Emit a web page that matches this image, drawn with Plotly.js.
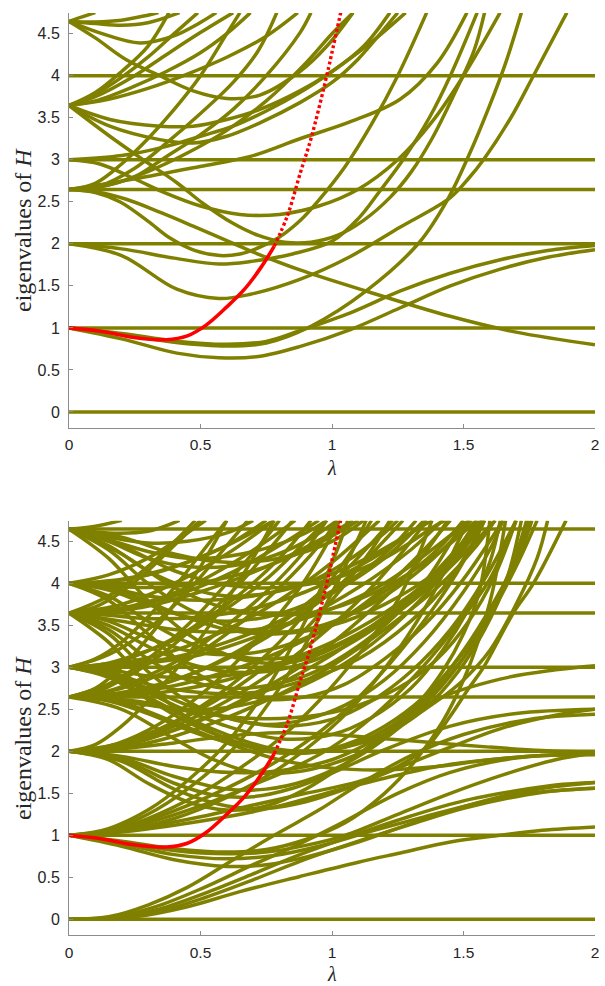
<!DOCTYPE html>
<html>
<head>
<meta charset="utf-8">
<script src="https://cdn.plot.ly/plotly-3.0.1.min.js"></script>
<style>
  html, body { margin: 0; padding: 0; background: #ffffff; }
  #chart { width: 605px; height: 986px; }
</style>
</head>
<body>
<div id="chart"></div>
<script>
// ---------------- data ----------------
const lambdaTicks = [0, 0.5, 1, 1.5, 2];
const lambdaTickText = ['0', '0.5', '1', '1.5', '2'];
const eigTicks = [0, 0.5, 1, 1.5, 2, 2.5, 3, 3.5, 4, 4.5];
const eigTickText = ['0', '0.5', '1', '1.5', '2', '2.5', '3', '3.5', '4', '4.5'];
const xTitle = 'λ';
const yTitle = 'eigenvalues of <i>H</i>';

// tracked eigenvalue (red), identical in both panels
const redPath = [[0,1],[0.12,0.96],[0.24,0.89],[0.37,0.86],[0.45,0.905],[0.52,1.03],[0.6,1.25],[0.67,1.47],[0.73,1.72],[0.78,1.97],[0.83,2.33],[0.88,2.85],[0.92,3.25],[0.98,4.0],[1.005,4.35],[1.033,4.75]];

// ---- top panel ----
const topFlat = [0, 1, 2, 2.646, 3, 4];
const topFrom1 = [
  [[0,1],[0.2,0.935],[0.4,0.845],[0.6,0.805],[0.75,0.84],[0.88,0.97],[1.07,1.18],[1.26,1.44],[1.45,1.65],[1.64,1.81],[1.82,1.92],[2,1.98]],
  [[0,1],[0.2,0.925],[0.4,0.83],[0.6,0.785],[0.75,0.82],[0.92,1.02],[1.13,1.44],[1.33,2.01],[1.44,2.53],[1.52,3.05],[1.6,3.65],[1.66,4.15],[1.72,4.75]],
  [[0,1],[0.2,0.87],[0.41,0.70],[0.57,0.645],[0.72,0.66],[0.88,0.78],[1.07,0.98],[1.26,1.24],[1.45,1.50],[1.64,1.70],[1.82,1.84],[2,1.93]]
];
const topFrom2 = [
  [[0,2],[0.2,1.94],[0.4,1.83],[0.57,1.76],[0.69,1.79],[0.85,1.88],[1.0,2.03],[1.1,2.3],[1.18,2.62],[1.27,3.0],[1.37,3.5],[1.45,4.0],[1.552,4.75]],
  [[0,2],[0.2,1.86],[0.41,1.46],[0.57,1.35],[0.69,1.40],[0.88,1.58],[1.07,1.85],[1.26,2.2],[1.45,2.55],[1.52,2.78],[1.576,3.0],[1.68,3.5],[1.766,4.0],[1.893,4.75]]
];
const topFrom265 = [
  [[0,2.646],[0.1,2.62],[0.218,2.53],[0.35,2.37],[0.472,2.21],[0.65,1.97],[0.726,1.87],[0.878,1.69],[1.132,1.436],[1.449,1.138],[1.7,0.95],[2,0.80]],
  [[0,2.646],[0.1,2.61],[0.193,2.5],[0.3,2.27],[0.384,2.07],[0.48,1.92],[0.574,1.86],[0.65,1.88],[0.726,1.96],[0.8,2.08],[0.88,2.28],[0.95,2.52],[1.05,2.92],[1.15,3.42],[1.25,4.0],[1.36,4.75]],
  [[0,2.646],[0.245,2.77],[0.498,2.92],[0.69,3.04],[0.878,3.25],[1.068,3.45],[1.259,3.72],[1.4,4.15],[1.513,4.75]],
  [[0,2.646],[0.117,2.69],[0.25,2.9],[0.371,3.2],[0.5,3.55],[0.624,3.92],[0.72,4.3],[0.79,4.75]],
  [[0,2.646],[0.1,2.67],[0.25,2.8],[0.371,3.04],[0.5,3.3],[0.624,3.6],[0.75,4.0],[0.878,4.51],[0.92,4.75]],
  [[0,2.646],[0.15,2.7],[0.3,2.86],[0.45,3.08],[0.6,3.35],[0.75,3.7],[0.9,4.15],[1.0,4.5],[1.08,4.75]],
  [[0,2.646],[0.1,2.72],[0.2,2.95],[0.3,3.25],[0.4,3.6],[0.5,4.0],[0.6,4.5],[0.65,4.75]]
];
const topFrom3 = [
  [[0,3],[0.117,2.95],[0.245,2.78],[0.37,2.6],[0.5,2.45],[0.65,2.35],[0.8,2.35],[0.95,2.45],[1.1,2.65],[1.25,3.0],[1.38,3.45],[1.5,4.0],[1.639,4.75]],
  [[0,3],[0.2,3.05],[0.371,3.16],[0.5,3.28],[0.624,3.40],[0.75,3.58],[0.878,3.80],[1.0,4.05],[1.15,4.4],[1.28,4.75]]
];
const topFrom365 = [
  [[0,3.646],[0.155,3.48],[0.345,3.40],[0.472,3.40],[0.6,3.48],[0.726,3.60],[0.878,3.82],[1.0,4.05],[1.12,4.35],[1.22,4.75]],
  [[0,3.646],[0.155,3.40],[0.345,3.24],[0.472,3.20],[0.6,3.28],[0.726,3.44],[0.878,3.68],[1.0,3.92],[1.1,4.2],[1.21,4.6],[1.25,4.75]],
  [[0,3.646],[0.155,3.28],[0.282,3.0],[0.409,2.73],[0.51,2.48],[0.62,2.25],[0.72,2.1],[0.82,2.02],[0.92,2.02],[1.02,2.1],[1.12,2.28],[1.22,2.55],[1.3,2.85],[1.38,3.25],[1.46,3.75],[1.54,4.3],[1.58,4.75]],
  [[0,3.646],[0.1,3.75],[0.245,3.99],[0.37,4.25],[0.498,4.51],[0.624,4.75]],
  [[0,3.646],[0.1,3.7],[0.245,3.87],[0.37,4.05],[0.498,4.27],[0.6,4.5],[0.69,4.75]],
  [[0,3.646],[0.15,3.72],[0.3,3.85],[0.45,4.02],[0.6,4.22],[0.75,4.47],[0.87,4.75]],
  [[0,3.646],[0.1,3.8],[0.2,4.05],[0.3,4.35],[0.38,4.75]],
  [[0,3.646],[0.1,3.78],[0.2,3.98],[0.3,4.22],[0.4,4.5],[0.49,4.75]]
];
const topFrom465 = [
  [[0,4.646],[0.117,4.51],[0.27,4.39],[0.396,4.47],[0.498,4.63],[0.56,4.75]],
  [[0,4.646],[0.1,4.45],[0.218,4.19],[0.345,4.0],[0.472,3.82],[0.6,3.73],[0.726,3.77],[0.878,4.05],[0.98,4.35],[1.08,4.75]],
  [[0,4.646],[0.1,4.64],[0.2,4.66],[0.3,4.72],[0.34,4.75]],
  [[0,4.646],[0.1,4.62],[0.2,4.6],[0.3,4.63],[0.42,4.75]],
  [[0,4.646],[0.05,4.7],[0.1,4.75]]
];

// ---- bottom panel ----
const botFlat = [0, 1, 2, 2.646, 3, 3.646, 4, 4.646];
const botFrom0 = [
  [[0,0],[0.2,0.02],[0.35,0.1],[0.5,0.24],[0.7,0.47],[0.878,0.69],[1.1,0.93],[1.3,1.13],[1.5,1.32],[1.7,1.46],[1.85,1.53],[2,1.56]],
  [[0,0],[0.18,0.02],[0.33,0.11],[0.5,0.29],[0.7,0.54],[0.878,0.77],[1.1,1.02],[1.3,1.23],[1.5,1.41],[1.7,1.53],[1.85,1.6],[2,1.63]],
  [[0,0],[0.25,0.03],[0.45,0.15],[0.65,0.33],[0.878,0.51],[1.1,0.68],[1.26,0.79],[1.45,0.92],[1.64,1.0],[1.8,1.06],[2,1.10]],
  [[0,0],[0.18,0.03],[0.33,0.15],[0.5,0.36],[0.7,0.65],[0.878,0.9],[1.05,1.17],[1.25,1.5],[1.45,1.75],[1.7,1.92],[2,1.97]],
  [[0,0],[0.15,0.03],[0.3,0.17],[0.45,0.38],[0.62,0.7],[0.78,1.0],[0.95,1.3],[1.1,1.6],[1.3,1.95],[1.5,2.2],[1.75,2.38],[2,2.44]]
];
const botFrom1 = [
  [[0,1],[0.2,0.92],[0.4,0.82],[0.6,0.78],[0.75,0.80],[0.9,0.88],[1.05,1.0],[1.25,1.25],[1.45,1.5],[1.65,1.72],[1.85,1.9],[2,1.98]],
  [[0,1],[0.2,0.93],[0.4,0.84],[0.6,0.80],[0.75,0.83],[0.9,0.95],[1.05,1.15],[1.2,1.5],[1.32,1.9],[1.42,2.35],[1.5,2.85],[1.56,3.35],[1.61,3.9],[1.66,4.75]],
  [[0,1],[0.2,0.87],[0.4,0.71],[0.6,0.63],[0.75,0.65],[0.9,0.74],[1.1,0.92],[1.3,1.14],[1.5,1.34],[1.7,1.5],[1.85,1.58],[2,1.63]],
  [[0,1],[0.2,0.9],[0.4,0.77],[0.6,0.72],[0.78,0.76],[0.95,0.87],[1.15,1.05],[1.35,1.22],[1.55,1.38],[1.75,1.5],[2,1.56]],
  [[0,1],[0.15,1.04],[0.3,1.15],[0.5,1.35],[0.7,1.6],[0.85,1.8],[1.0,2.05],[1.15,2.4],[1.3,2.85],[1.45,3.4],[1.6,4.05],[1.7,4.75]],
  [[0,1],[0.15,1.05],[0.3,1.2],[0.5,1.5],[0.65,1.8],[0.8,2.15],[0.95,2.6],[1.1,3.15],[1.25,3.8],[1.38,4.75]],
  [[0,1],[0.15,1.03],[0.3,1.1],[0.5,1.22],[0.7,1.36],[0.9,1.5],[1.1,1.64],[1.25,1.82],[1.36,2.05],[1.45,2.42],[1.52,2.75],[1.576,3.0],[1.69,3.65],[1.766,4.0],[1.89,4.75]],
  [[0,1],[0.15,1.06],[0.3,1.25],[0.45,1.55],[0.6,1.95],[0.72,2.4],[0.85,3.0],[0.97,3.7],[1.08,4.4],[1.13,4.75]],
  [[0,1],[0.2,1.04],[0.4,1.12],[0.6,1.22],[0.8,1.35],[1.0,1.52],[1.2,1.68],[1.4,1.82],[1.6,1.9],[1.8,1.95],[2,1.96]],
  [[0,1],[0.15,1.08],[0.3,1.3],[0.45,1.65],[0.6,2.1],[0.72,2.6],[0.83,3.15],[0.93,3.75],[1.02,4.4],[1.06,4.75]],
  [[0,1],[0.2,1.05],[0.4,1.2],[0.6,1.45],[0.8,1.8],[0.95,2.15],[1.1,2.6],[1.25,3.2],[1.38,3.85],[1.48,4.5],[1.52,4.75]],
  [[0,1],[0.15,1.05],[0.3,1.18],[0.5,1.42],[0.7,1.72],[0.85,2.0],[1.0,2.35],[1.15,2.8],[1.3,3.35],[1.45,4.0],[1.55,4.55],[1.58,4.75]]
];
const botFrom2 = [
  [[0,2],[0.2,1.92],[0.4,1.7],[0.6,1.55],[0.75,1.55],[0.9,1.65],[1.05,1.85],[1.2,2.15],[1.35,2.6],[1.5,3.2],[1.62,3.8],[1.72,4.4],[1.76,4.75]],
  [[0,2],[0.2,1.88],[0.4,1.55],[0.6,1.35],[0.75,1.32],[0.9,1.4],[1.05,1.55],[1.25,1.8],[1.45,2.05],[1.65,2.28],[1.85,2.43],[2,2.5]],
  [[0,2],[0.2,1.94],[0.4,1.82],[0.6,1.75],[0.8,1.77],[1.0,1.9],[1.2,2.2],[1.4,2.6],[1.5,2.85],[1.6,3.2],[1.7,3.75],[1.78,4.3],[1.82,4.75]],
  [[0,2],[0.15,1.9],[0.3,1.62],[0.45,1.4],[0.6,1.3],[0.75,1.35],[0.9,1.55],[1.05,1.85],[1.2,2.2],[1.385,2.6],[1.639,2.86],[1.85,2.97],[2,3.02]],
  [[0,2],[0.2,1.9],[0.4,1.62],[0.55,1.48],[0.7,1.46],[0.85,1.56],[1.0,1.74],[1.2,2.02],[1.45,2.3],[1.7,2.45],[2,2.5]],
  [[0,2],[0.15,2.05],[0.3,2.2],[0.5,2.5],[0.7,2.9],[0.85,3.3],[1.0,3.8],[1.15,4.4],[1.22,4.75]],
  [[0,2],[0.15,2.04],[0.3,2.15],[0.5,2.38],[0.7,2.68],[0.9,3.05],[1.1,3.55],[1.3,4.15],[1.44,4.75]],
  [[0,2],[0.2,2.1],[0.4,2.35],[0.6,2.75],[0.8,3.3],[0.95,3.85],[1.1,4.5],[1.15,4.75]],
  [[0,2],[0.2,2.06],[0.4,2.25],[0.6,2.5],[0.8,2.8],[1.0,3.15],[1.2,3.6],[1.4,4.1],[1.55,4.75]],
  [[0,2],[0.2,2.03],[0.4,2.1],[0.6,2.18],[0.8,2.22],[1.0,2.2],[1.2,2.15],[1.4,2.1],[1.6,2.05],[1.8,2.01],[2,1.99]],
  [[0,2],[0.1,2.08],[0.2,2.3],[0.3,2.6],[0.4,2.95],[0.5,3.35],[0.6,3.8],[0.7,4.3],[0.78,4.75]],
  [[0,2],[0.2,2.08],[0.4,2.3],[0.6,2.6],[0.8,3.0],[1.0,3.5],[1.15,3.95],[1.3,4.5],[1.36,4.75]],
  [[0,2],[0.15,2.06],[0.3,2.25],[0.45,2.55],[0.6,2.95],[0.75,3.45],[0.9,4.05],[1.03,4.75]],
  [[0,2],[0.2,2.04],[0.4,2.18],[0.6,2.4],[0.8,2.68],[1.0,3.02],[1.2,3.45],[1.4,3.95],[1.55,4.45],[1.62,4.75]]
];
const botFrom265 = [
  [[0,2.646],[0.2,2.7],[0.4,2.85],[0.6,3.1],[0.8,3.45],[1.0,3.9],[1.15,4.35],[1.27,4.75]],
  [[0,2.646],[0.2,2.75],[0.4,3.0],[0.6,3.4],[0.8,3.95],[0.95,4.45],[1.02,4.75]],
  [[0,2.646],[0.2,2.68],[0.4,2.78],[0.6,2.95],[0.8,3.18],[1.0,3.5],[1.2,3.9],[1.4,4.4],[1.5,4.75]],
  [[0,2.646],[0.15,2.8],[0.3,3.1],[0.45,3.5],[0.6,4.0],[0.75,4.55],[0.8,4.75]],
  [[0,2.646],[0.2,2.58],[0.4,2.35],[0.6,2.1],[0.8,1.9],[1.0,1.8],[1.2,1.78],[1.4,1.82],[1.6,1.9],[1.8,1.95],[2,1.97]],
  [[0,2.646],[0.2,2.5],[0.4,2.15],[0.55,1.9],[0.7,1.75],[0.85,1.75],[1.0,1.85],[1.15,2.05],[1.3,2.4],[1.45,2.9],[1.58,3.5],[1.7,4.2],[1.78,4.75]],
  [[0,2.646],[0.15,2.6],[0.3,2.45],[0.5,2.2],[0.7,2.05],[0.9,2.0],[1.1,2.1],[1.25,2.35],[1.4,2.75],[1.52,3.2],[1.62,3.75],[1.7,4.35],[1.74,4.75]],
  [[0,2.646],[0.15,2.72],[0.3,2.9],[0.45,3.15],[0.6,3.5],[0.75,3.9],[0.9,4.4],[0.98,4.75]],
  [[0,2.646],[0.2,2.66],[0.4,2.72],[0.6,2.85],[0.8,3.05],[1.0,3.3],[1.2,3.65],[1.4,4.1],[1.55,4.5],[1.62,4.75]],
  [[0,2.646],[0.1,2.75],[0.2,3.0],[0.3,3.35],[0.4,3.75],[0.5,4.2],[0.6,4.75]],
  [[0,2.646],[0.25,2.6],[0.45,2.48],[0.65,2.4],[0.85,2.4],[1.05,2.5],[1.25,2.75],[1.4,3.1],[1.52,3.55],[1.62,4.1],[1.7,4.75]],
  [[0,2.646],[0.15,2.62],[0.3,2.55],[0.45,2.5],[0.6,2.52],[0.75,2.62],[0.9,2.8],[1.05,3.05],[1.2,3.4],[1.35,3.85],[1.5,4.4],[1.58,4.75]],
  [[0,2.646],[0.15,2.66],[0.3,2.75],[0.45,2.9],[0.6,3.12],[0.75,3.4],[0.9,3.75],[1.05,4.15],[1.2,4.65],[1.23,4.75]],
  [[0,2.646],[0.1,2.7],[0.2,2.85],[0.35,3.15],[0.5,3.55],[0.65,4.0],[0.8,4.55],[0.85,4.75]]
];
const botFrom3 = [
  [[0,3],[0.2,3.05],[0.4,3.2],[0.6,3.45],[0.8,3.8],[1.0,4.25],[1.18,4.75]],
  [[0,3],[0.2,3.08],[0.4,3.35],[0.6,3.75],[0.8,4.3],[0.92,4.75]],
  [[0,3],[0.2,3.03],[0.4,3.12],[0.6,3.3],[0.8,3.55],[1.0,3.88],[1.2,4.3],[1.35,4.75]],
  [[0,3],[0.15,3.15],[0.3,3.45],[0.45,3.9],[0.6,4.45],[0.68,4.75]],
  [[0,3],[0.15,2.92],[0.3,2.75],[0.45,2.55],[0.6,2.4],[0.8,2.3],[1.0,2.38],[1.15,2.6],[1.3,2.95],[1.45,3.45],[1.58,4.05],[1.7,4.75]],
  [[0,3],[0.15,2.95],[0.3,2.8],[0.5,2.7],[0.7,2.7],[0.9,2.85],[1.1,3.1],[1.3,3.55],[1.45,4.05],[1.58,4.75]],
  [[0,3],[0.2,2.85],[0.4,2.55],[0.6,2.3],[0.8,2.15],[1.0,2.2],[1.15,2.4],[1.3,2.75],[1.42,3.2],[1.52,3.7],[1.6,4.25],[1.64,4.75]],
  [[0,3],[0.15,3.0],[0.3,3.05],[0.5,3.15],[0.7,3.35],[0.9,3.6],[1.1,3.95],[1.3,4.4],[1.42,4.75]],
  [[0,3],[0.1,3.1],[0.2,3.3],[0.3,3.6],[0.4,3.95],[0.5,4.35],[0.6,4.75]],
  [[0,3],[0.15,2.9],[0.3,2.65],[0.45,2.4],[0.6,2.2],[0.75,2.05],[0.9,2.0],[1.05,2.05],[1.2,2.2],[1.35,2.5],[1.48,2.95],[1.58,3.45],[1.66,4.0],[1.72,4.75]],
  [[0,3],[0.15,3.05],[0.3,3.2],[0.45,3.4],[0.6,3.7],[0.75,4.05],[0.9,4.5],[0.98,4.75]],
  [[0,3],[0.15,2.97],[0.3,2.9],[0.5,2.88],[0.7,2.95],[0.9,3.12],[1.1,3.4],[1.3,3.8],[1.45,4.25],[1.57,4.75]],
  [[0,3],[0.15,2.88],[0.3,2.62],[0.45,2.35],[0.6,2.15],[0.75,2.02],[0.9,1.98],[1.05,2.05],[1.2,2.25],[1.32,2.55],[1.42,2.95],[1.5,3.4],[1.56,3.9],[1.6,4.75]]
];
const botFrom365 = [
  [[0,3.646],[0.2,3.75],[0.4,4.0],[0.6,4.35],[0.78,4.75]],
  [[0,3.646],[0.2,3.7],[0.4,3.85],[0.6,4.1],[0.8,4.45],[0.95,4.75]],
  [[0,3.646],[0.15,3.85],[0.3,4.2],[0.45,4.65],[0.48,4.75]],
  [[0,3.646],[0.25,3.7],[0.5,3.9],[0.75,4.2],[1.0,4.6],[1.08,4.75]],
  [[0,3.646],[0.15,3.55],[0.3,3.35],[0.45,3.2],[0.6,3.15],[0.75,3.2],[0.9,3.35],[1.05,3.6],[1.2,3.95],[1.35,4.4],[1.45,4.75]],
  [[0,3.646],[0.15,3.45],[0.3,3.1],[0.45,2.85],[0.6,2.75],[0.75,2.78],[0.9,2.9],[1.05,3.15],[1.2,3.5],[1.35,4.0],[1.5,4.75]],
  [[0,3.646],[0.2,3.55],[0.4,3.45],[0.6,3.42],[0.8,3.5],[1.0,3.7],[1.2,4.0],[1.4,4.45],[1.52,4.75]],
  [[0,3.646],[0.15,3.62],[0.3,3.58],[0.5,3.6],[0.7,3.7],[0.9,3.9],[1.1,4.2],[1.3,4.6],[1.36,4.75]],
  [[0,3.646],[0.15,3.4],[0.3,2.95],[0.45,2.6],[0.6,2.4],[0.75,2.32],[0.9,2.38],[1.05,2.55],[1.2,2.85],[1.35,3.3],[1.5,3.9],[1.6,4.4],[1.65,4.75]],
  [[0,3.646],[0.1,3.72],[0.2,3.9],[0.3,4.15],[0.4,4.45],[0.5,4.75]],
  [[0,3.646],[0.15,3.5],[0.3,3.25],[0.45,3.05],[0.6,2.95],[0.75,2.95],[0.9,3.05],[1.05,3.25],[1.2,3.55],[1.35,3.95],[1.5,4.5],[1.56,4.75]],
  [[0,3.646],[0.15,3.68],[0.3,3.78],[0.45,3.95],[0.6,4.2],[0.75,4.5],[0.86,4.75]],
  [[0,3.646],[0.15,3.3],[0.3,2.8],[0.45,2.4],[0.6,2.15],[0.75,2.0],[0.9,1.98],[1.05,2.08],[1.2,2.3],[1.35,2.65],[1.48,3.1],[1.6,3.65],[1.7,4.3],[1.75,4.75]]
];
const botFrom4 = [
  [[0,4],[0.15,4.1],[0.3,4.3],[0.45,4.6],[0.52,4.75]],
  [[0,4],[0.2,4.05],[0.4,4.2],[0.6,4.45],[0.78,4.75]],
  [[0,4],[0.15,3.92],[0.3,3.75],[0.45,3.6],[0.6,3.55],[0.75,3.6],[0.9,3.75],[1.05,4.0],[1.2,4.35],[1.32,4.75]],
  [[0,4],[0.2,3.9],[0.4,3.65],[0.6,3.45],[0.8,3.4],[1.0,3.5],[1.2,3.75],[1.4,4.15],[1.55,4.65],[1.57,4.75]],
  [[0,4],[0.15,4.02],[0.3,4.1],[0.45,4.25],[0.6,4.45],[0.75,4.75]],
  [[0,4],[0.15,3.95],[0.3,3.85],[0.5,3.8],[0.7,3.85],[0.9,4.0],[1.1,4.25],[1.3,4.6],[1.38,4.75]],
  [[0,4],[0.15,3.85],[0.3,3.55],[0.45,3.3],[0.6,3.15],[0.75,3.1],[0.9,3.15],[1.05,3.3],[1.2,3.55],[1.35,3.9],[1.5,4.35],[1.62,4.75]],
  [[0,4],[0.15,3.97],[0.3,3.95],[0.45,3.98],[0.6,4.07],[0.75,4.2],[0.9,4.4],[1.05,4.65],[1.1,4.75]],
  [[0,4],[0.15,3.8],[0.3,3.4],[0.45,3.0],[0.6,2.75],[0.75,2.62],[0.9,2.65],[1.05,2.8],[1.2,3.1],[1.35,3.5],[1.5,4.05],[1.62,4.6],[1.65,4.75]]
];
const botFrom465 = [
  [[0,4.646],[0.15,4.5],[0.3,4.3],[0.45,4.2],[0.6,4.2],[0.75,4.3],[0.9,4.5],[1.02,4.75]],
  [[0,4.646],[0.15,4.45],[0.3,4.15],[0.45,3.95],[0.6,3.85],[0.75,3.88],[0.9,4.0],[1.05,4.25],[1.2,4.6],[1.25,4.75]],
  [[0,4.646],[0.15,4.55],[0.3,4.48],[0.45,4.5],[0.6,4.6],[0.7,4.75]],
  [[0,4.646],[0.2,4.35],[0.4,3.95],[0.6,3.7],[0.8,3.62],[1.0,3.7],[1.2,3.95],[1.4,4.35],[1.55,4.75]],
  [[0,4.646],[0.1,4.68],[0.2,4.75]],
  [[0,4.646],[0.2,4.55],[0.4,4.35],[0.6,4.25],[0.8,4.3],[1.0,4.5],[1.12,4.75]],
  [[0,4.646],[0.15,4.4],[0.3,4.0],[0.45,3.7],[0.6,3.5],[0.75,3.42],[0.9,3.45],[1.05,3.6],[1.2,3.85],[1.35,4.2],[1.5,4.65],[1.53,4.75]],
  [[0,4.646],[0.15,4.6],[0.3,4.62],[0.42,4.75]],
  [[0,4.646],[0.15,4.52],[0.3,4.38],[0.45,4.3],[0.6,4.32],[0.75,4.42],[0.9,4.6],[0.98,4.75]],
  [[0,4.646],[0.2,4.45],[0.4,4.15],[0.6,3.98],[0.8,3.95],[1.0,4.05],[1.2,4.3],[1.4,4.7],[1.43,4.75]],
  [[0,4.646],[0.15,4.3],[0.3,3.8],[0.45,3.4],[0.6,3.15],[0.75,3.05],[0.9,3.1],[1.05,3.3],[1.2,3.6],[1.35,4.0],[1.5,4.5],[1.57,4.75]]
];

// ---------------- drawing ----------------
const OLIVE = 'rgb(128,128,0)';
const RED = 'rgb(255,0,0)';
const LW = 3.5;
const traces = [];

function curve(pts, xa, ya, color, width, dash) {
  traces.push({
    type: 'scatter', mode: 'lines', xaxis: xa, yaxis: ya,
    x: pts.map(p => p[0]), y: pts.map(p => p[1]),
    line: {color: color, width: width, shape: 'spline', smoothing: 1, dash: dash || 'solid'},
    hoverinfo: 'skip', showlegend: false
  });
}
function flat(levels, xa, ya) {
  levels.forEach(v => curve([[lambdaTicks[0], v], [lambdaTicks[lambdaTicks.length - 1], v]], xa, ya, OLIVE, LW));
}
function panel(xa, ya, flats, families) {
  flat(flats, xa, ya);
  families.forEach(fam => fam.forEach(c => curve(c, xa, ya, OLIVE, LW)));
  curve(redPath.filter(p => p[0] <= 0.78), xa, ya, RED, 3.6);
  curve(redPath.filter(p => p[0] >= 0.78), xa, ya, RED, 3.4, '3px,2.6px');
}
panel('x', 'y', topFlat, [topFrom1, topFrom2, topFrom265, topFrom3, topFrom365, topFrom465]);
panel('x2', 'y2', botFlat, [botFrom0, botFrom1, botFrom2, botFrom265, botFrom3, botFrom365, botFrom4, botFrom465]);

const tickFontY = {family: 'Liberation Sans, Arial, sans-serif', size: 16, color: '#262626'};
const tickFontX = {family: 'Liberation Sans, Arial, sans-serif', size: 15.5, color: '#262626'};
const titleFont = {family: 'Liberation Serif, DejaVu Serif, serif', size: 24, color: '#262626'};
const lamFont = {family: 'Liberation Serif, DejaVu Serif, serif', size: 20, color: '#262626'};
function xAxis(anchor) {
  return {
    anchor: anchor, domain: [0, 1], range: [0, 2],
    tickmode: 'array', tickvals: lambdaTicks, ticktext: lambdaTickText,
    ticks: 'inside', ticklen: 4, tickwidth: 1, tickcolor: '#8c8c8c',
    showline: true, linecolor: '#8c8c8c', linewidth: 1, mirror: false,
    showgrid: false, zeroline: false, tickfont: tickFontX, ticklabelstandoff: 3
  };
}
function yAxis(anchor, domain) {
  return {
    anchor: anchor, domain: domain, range: [-0.187, 4.746],
    tickmode: 'array', tickvals: eigTicks, ticktext: eigTickText,
    ticks: 'inside', ticklen: 4, tickwidth: 1, tickcolor: '#8c8c8c',
    showline: true, linecolor: '#8c8c8c', linewidth: 1, mirror: false,
    showgrid: false, zeroline: false, tickfont: tickFontY, ticklabelstandoff: 5
  };
}
// plot area: x 69..595 px, y 13..935 px
const PT = 13, PB = 935, PH = PB - PT;
function ann(text, xpx, ypx, font, angle, yanchor) {
  return {
    xref: 'paper', yref: 'paper', x: (xpx - 69) / 526, y: (PB - ypx) / PH,
    text: text, showarrow: false, font: font, textangle: angle,
    xanchor: 'center', yanchor: yanchor || 'middle', borderpad: 0
  };
}
const layout = {
  width: 605, height: 986,
  margin: {l: 69, r: 10, t: PT, b: 986 - PB},
  paper_bgcolor: '#ffffff', plot_bgcolor: '#ffffff',
  showlegend: false, hovermode: false,
  xaxis: xAxis('y'),
  yaxis: yAxis('x', [(PB - 427.7) / PH, 1]),
  xaxis2: xAxis('y2'),
  yaxis2: yAxis('x2', [0, (PB - 520.7) / PH]),
  annotations: [
    ann(yTitle, 23, 230, titleFont, -90),
    ann(yTitle, 23, 738, titleFont, -90),
    ann('<i>' + xTitle + '</i>', 332, 468, lamFont, 0),
    ann('<i>' + xTitle + '</i>', 332, 986, lamFont, 0, 'bottom')
  ]
};
Plotly.newPlot('chart', traces, layout, {staticPlot: true, displayModeBar: false});
</script>
</body>
</html>
